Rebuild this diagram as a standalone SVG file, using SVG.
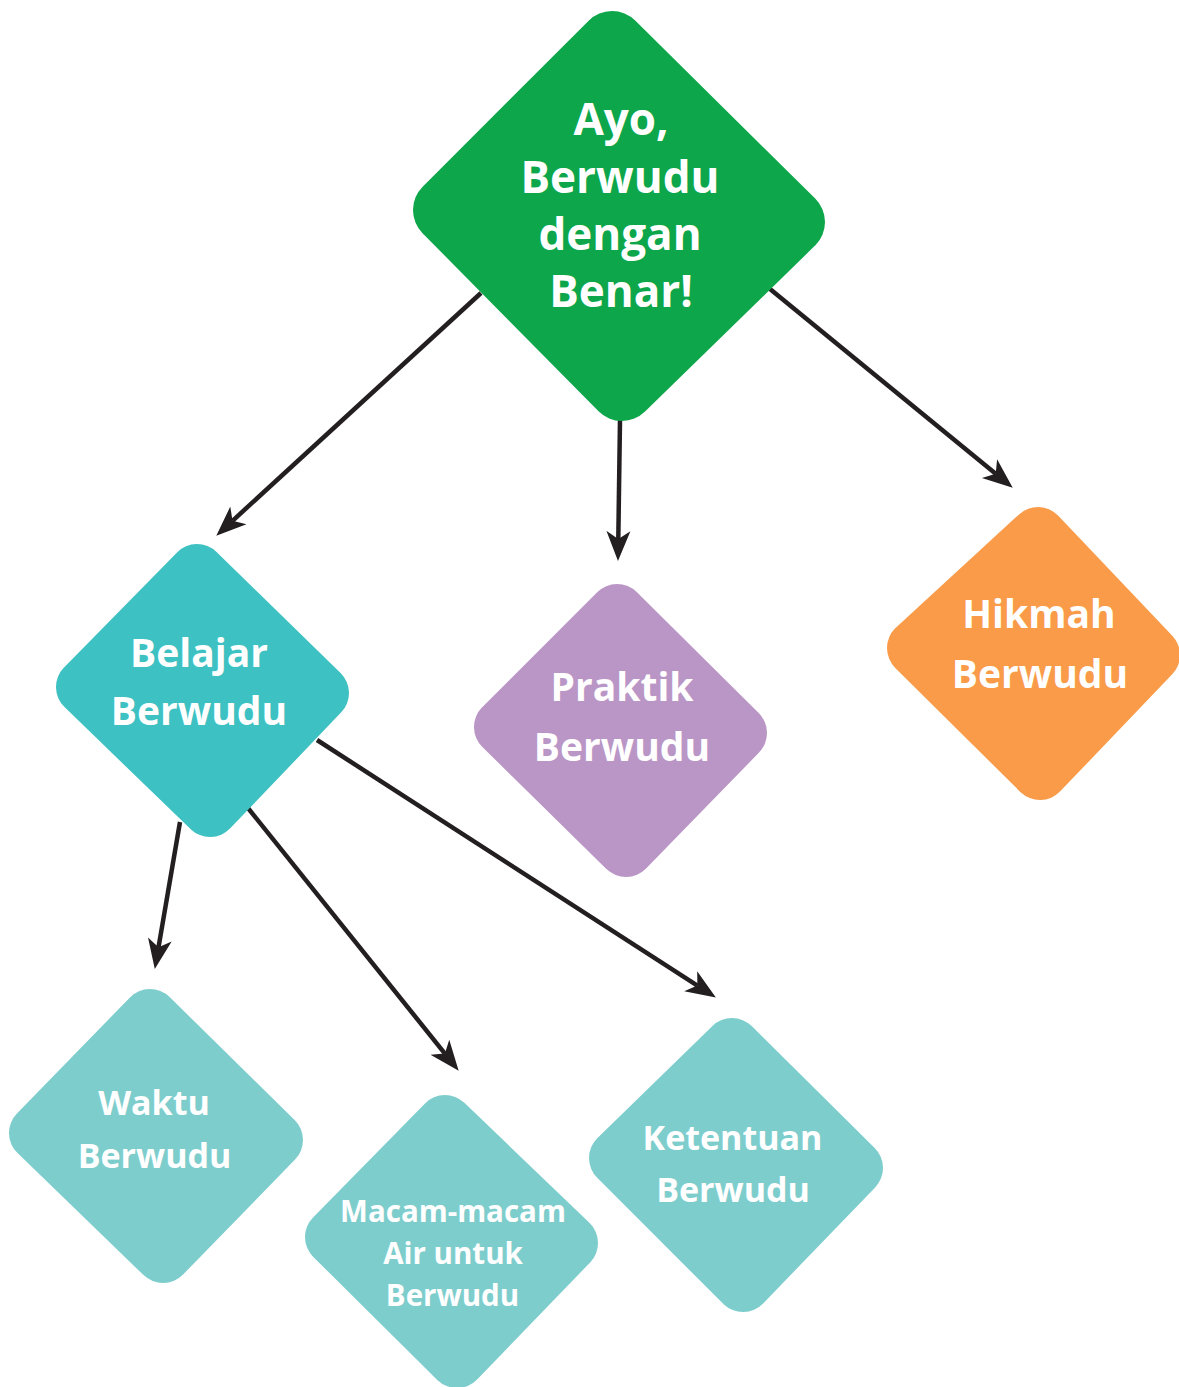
<svg xmlns="http://www.w3.org/2000/svg" width="1179" height="1387" viewBox="0 0 1179 1387">
  <style>
    .shape { stroke-linejoin: round; }
    .big { stroke-width: 66; }
    .small { stroke-width: 56; }
    .green { fill: #0da64a; stroke: #0da64a; }
    .teal { fill: #3ec1c2; stroke: #3ec1c2; }
    .purple { fill: #ba96c6; stroke: #ba96c6; }
    .orange { fill: #f99b48; stroke: #f99b48; }
    .light { fill: #7ecdcd; stroke: #7ecdcd; }
    .label { font-family: "Open Sans", "Noto Sans", "Liberation Sans", sans-serif; font-weight: 700; fill: #ffffff; text-anchor: middle; }
    .edge { stroke: #231f20; stroke-width: 4.5; fill: none; marker-end: url(#arrow); }
  </style>
  <defs>
    <marker id="arrow" markerUnits="userSpaceOnUse" markerWidth="32" markerHeight="28" viewBox="0 -14 32 28" refX="8" refY="0" orient="auto">
      <path d="M30,0 L0,-12 L8,0 L0,12 Z" fill="#231f20"/>
    </marker>
  </defs>
  <rect width="1179" height="1387" fill="#ffffff"/>

  <!-- connectors -->
  <g id="connectors">
    <line class="edge" x1="481" y1="293" x2="232.5" y2="520.8"/>
    <line class="edge" x1="620" y1="420" x2="618.3" y2="539"/>
    <line class="edge" x1="770" y1="289" x2="995.7" y2="473.7"/>
    <line class="edge" x1="180" y1="822" x2="158.5" y2="947.3"/>
    <line class="edge" x1="248" y1="808" x2="444.9" y2="1053.6"/>
    <line class="edge" x1="317" y1="740" x2="697.4" y2="985.6"/>
  </g>

  <!-- root topic -->
  <g id="node-ayo">
    <polygon class="shape big green" points="446,210 612,44 792,222 622,388"/>
    <g class="label" font-size="44">
      <text x="621" y="135">Ayo,</text>
      <text x="620" y="193">Berwudu</text>
      <text x="620" y="250">dengan</text>
      <text x="621" y="307">Benar!</text>
    </g>
  </g>

  <g id="node-belajar">
    <polygon class="shape small teal" points="84,687 197,572 321,693 210,809"/>
    <g class="label" font-size="39">
      <text x="199" y="667">Belajar</text>
      <text x="199" y="725">Berwudu</text>
    </g>
  </g>

  <g id="node-praktik">
    <polygon class="shape small purple" points="502,727 617,612 739,733 626,849"/>
    <g class="label" font-size="39">
      <text x="622" y="701">Praktik</text>
      <text x="622" y="761">Berwudu</text>
    </g>
  </g>

  <g id="node-hikmah">
    <polygon class="shape small orange" points="915,648 1038,535 1152,655 1040,772"/>
    <g class="label" font-size="39">
      <text x="1039" y="628">Hikmah</text>
      <text x="1040" y="688">Berwudu</text>
    </g>
  </g>

  <g id="node-waktu">
    <polygon class="shape small light" points="37,1133 150,1017 275,1140 163,1255"/>
    <g class="label" font-size="34">
      <text x="154" y="1115">Waktu</text>
      <text x="154.5" y="1168">Berwudu</text>
    </g>
  </g>

  <g id="node-macam">
    <polygon class="shape small light" points="333,1237 445,1123 570,1243 457,1360"/>
    <g class="label" font-size="29.5">
      <text x="453" y="1222">Macam-macam</text>
      <text x="453" y="1264">Air untuk</text>
      <text x="452.5" y="1306">Berwudu</text>
    </g>
  </g>

  <g id="node-ketentuan">
    <polygon class="shape small light" points="617,1158 732,1046 855,1168 743,1284"/>
    <g class="label" font-size="34">
      <text x="732.5" y="1150">Ketentuan</text>
      <text x="733" y="1202">Berwudu</text>
    </g>
  </g>
</svg>
